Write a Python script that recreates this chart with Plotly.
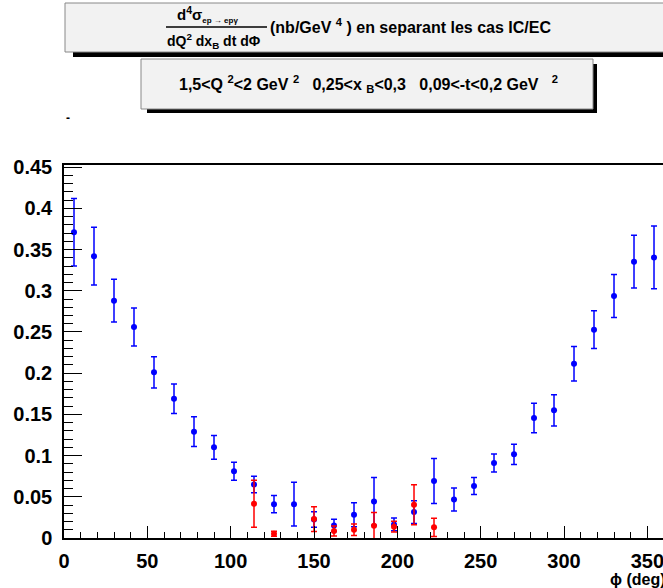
import plotly.graph_objects as go

# ---- data ----
phi_blue = [6, 18, 30, 42, 54, 66, 78, 90, 102, 114, 126, 138, 150, 162, 174,
            186, 198, 210, 222, 234, 246, 258, 270, 282, 294, 306, 318, 330, 342, 354]
xs_blue = [0.371, 0.342, 0.288, 0.256, 0.201, 0.169, 0.129, 0.110, 0.081, 0.065,
           0.041, 0.041, 0.0225, 0.0153, 0.0283, 0.0444, 0.0165, 0.0315, 0.0692, 0.0468,
           0.0631, 0.0910, 0.1015, 0.1456, 0.1549, 0.2115, 0.2528, 0.2937, 0.3353, 0.3405]
err_blue = [0.041, 0.035, 0.026, 0.023, 0.019, 0.018, 0.018, 0.0145, 0.011, 0.010,
            0.0105, 0.0265, 0.0095, 0.0075, 0.0145, 0.029, 0.0078, 0.0138, 0.0273, 0.014,
            0.0103, 0.011, 0.0123, 0.018, 0.019, 0.021, 0.0229, 0.026, 0.032, 0.038]

phi_red = [114, 126, 150, 162, 174, 186, 198, 210, 222]
xs_red = [0.0416, 0.0052, 0.023, 0.0085, 0.010, 0.0149, 0.0137, 0.0404, 0.0129]
err_red = [0.0285, 0.003, 0.015, 0.006, 0.007, 0.016, 0.0065, 0.0243, 0.011]

x_ticks = [0, 50, 100, 150, 200, 250, 300, 350]
y_ticks = [0, 0.05, 0.1, 0.15, 0.2, 0.25, 0.3, 0.35, 0.4, 0.45]
y_ticktext = ["0", "0.05", "0.1", "0.15", "0.2", "0.25", "0.3", "0.35", "0.4", "0.45"]

W, H = 663, 588
L, R, T, B = 64, 0, 165, 50
pw, ph = W - L - R, H - T - B


def px(x):
    return (x - L) / pw


def py(y):
    return (H - B - y) / ph


FONT = "Liberation Sans, Arial, sans-serif"

fig = go.Figure()
fig.add_trace(go.Scatter(
    x=phi_blue, y=xs_blue, mode="markers",
    marker=dict(color="#0000ff", size=6),
    error_y=dict(type="data", array=err_blue, color="#0000ff", thickness=1.5, width=3),
    showlegend=False))
fig.add_trace(go.Scatter(
    x=phi_red, y=xs_red, mode="markers",
    marker=dict(color="#ff0000", size=6),
    error_y=dict(type="data", array=err_red, color="#ff0000", thickness=1.5, width=3),
    showlegend=False))

shapes = []
# title box 1 (shadow + box)
shapes.append(dict(type="rect", xref="paper", yref="paper",
                   x0=px(73), x1=px(700), y0=py(57), y1=py(8),
                   fillcolor="black", line=dict(width=0), layer="above"))
shapes.append(dict(type="rect", xref="paper", yref="paper",
                   x0=px(65), x1=px(690), y0=py(52), y1=py(3),
                   fillcolor="#f2f2f2", line=dict(color="#888888", width=1), layer="above"))
# fraction bar
shapes.append(dict(type="line", xref="paper", yref="paper",
                   x0=px(166), x1=px(267), y0=py(27), y1=py(27),
                   line=dict(color="black", width=1.3), layer="above"))
# box 2
shapes.append(dict(type="rect", xref="paper", yref="paper",
                   x0=px(147), x1=px(597), y0=py(113), y1=py(64),
                   fillcolor="black", line=dict(width=0), layer="above"))
shapes.append(dict(type="rect", xref="paper", yref="paper",
                   x0=px(141), x1=px(593), y0=py(109), y1=py(59),
                   fillcolor="#f2f2f2", line=dict(color="#888888", width=1), layer="above"))

nb = "\u00a0"
annotations = [
    dict(text="d<sup>4</sup>σ<sub><span style='font-size:8px'>ep → epγ</span></sub>",
         x=px(207), y=py(15), xref="paper", yref="paper", showarrow=False,
         font=dict(family=FONT, size=15, color="black"), xanchor="center", yanchor="middle"),
    dict(text="dQ<sup>2</sup>" + nb + "dx<sub>B</sub>" + nb + "dt" + nb + "dΦ",
         x=px(214), y=py(41), xref="paper", yref="paper", showarrow=False,
         font=dict(family=FONT, size=14, color="black"), xanchor="center", yanchor="middle"),
    dict(text="(nb/GeV" + nb + "<sup>4</sup>" + nb + ") en separant les cas IC/EC",
         x=px(268), y=py(26), xref="paper", yref="paper", showarrow=False,
         font=dict(family=FONT, size=16, color="black"), xanchor="left", yanchor="middle"),
    dict(text="1,5&lt;Q" + nb + "<sup>2</sup>&lt;2 GeV" + nb + "<sup>2</sup>" + nb * 3 +
              "0,25&lt;x" + nb + "<sub>B</sub>&lt;0,3" + nb * 3 + "0,09&lt;-t&lt;0,2 GeV" + nb * 3 + "<sup>2</sup>",
         x=px(368), y=py(84), xref="paper", yref="paper", showarrow=False,
         font=dict(family=FONT, size=16, color="black"), xanchor="center", yanchor="middle"),
    dict(text="-", x=px(68), y=py(118), xref="paper", yref="paper", showarrow=False,
         font=dict(family=FONT, size=12, color="black"), xanchor="center", yanchor="middle"),
    dict(text="ϕ (deg)", x=px(668), y=py(579), xref="paper", yref="paper", showarrow=False,
         font=dict(family=FONT, size=16, color="black"), xanchor="right", yanchor="middle"),
]

fig.update_layout(
    width=W, height=H,
    margin=dict(l=L, r=R, t=T, b=B, pad=0),
    paper_bgcolor="white", plot_bgcolor="white",
    font=dict(family=FONT, color="black", weight="bold"),
    shapes=shapes, annotations=annotations,
    showlegend=False,
)
fig.update_xaxes(
    range=[0, pw / 1.6667], tickvals=x_ticks, ticktext=[str(v) for v in x_ticks],
    ticks="inside", ticklen=12, tickwidth=1, tickcolor="black",
    minor=dict(dtick=10, ticks="inside", ticklen=6, tickwidth=1, tickcolor="black"),
    showline=True, linecolor="black", linewidth=1.5, mirror=True,
    showgrid=False, zeroline=False,
    tickfont=dict(family=FONT, size=20, color="black", weight="bold"),
    ticklabelstandoff=4, ticklabeloverflow="allow",
)
fig.update_yaxes(
    range=[0, 0.4526], tickvals=y_ticks, ticktext=y_ticktext,
    ticks="inside", ticklen=18, tickwidth=1, tickcolor="black",
    minor=dict(dtick=0.01, ticks="inside", ticklen=9, tickwidth=1, tickcolor="black"),
    showline=True, linecolor="black", linewidth=1.5, mirror=False,
    showgrid=False, zeroline=False,
    tickfont=dict(family=FONT, size=20, color="black", weight="bold"),
    ticklabelstandoff=6, ticklabeloverflow="allow",
)
for a in fig.layout.annotations:
    a.font.weight = "bold"

fig.write_html("out.html", config={"displayModeBar": False},
               post_script="document.body.style.margin='0';document.body.style.overflow='hidden';")
